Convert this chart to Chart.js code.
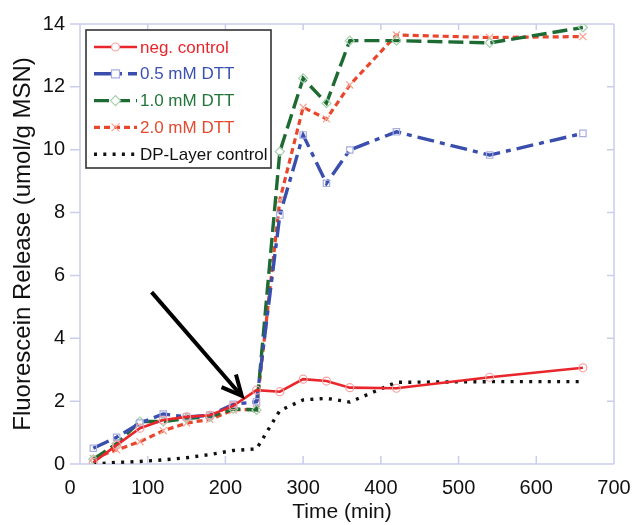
<!DOCTYPE html>
<html>
<head>
<meta charset="utf-8">
<script src="https://cdn.jsdelivr.net/npm/chart.js@4/dist/chart.umd.min.js"></script>
<style>
  html, body { margin: 0; padding: 0; background: #fff; }
  #wrap { width: 634px; height: 525px; position: relative; }
</style>
</head>
<body>
<div id="wrap"><canvas id="c" width="634" height="525"></canvas></div>
<script>
// ---- data ----
const times = [30, 60, 90, 120, 150, 180, 210, 240, 270, 300, 330, 360, 420, 540, 660];
const negControl = [0.05, 0.6, 1.14, 1.4, 1.5, 1.55, 1.85, 2.35, 2.3, 2.7, 2.64, 2.43, 2.41, 2.76, 3.06];
const dtt05 = [0.5, 0.85, 1.3, 1.59, 1.5, 1.55, 1.9, 1.98, 7.92, 10.47, 8.93, 9.99, 10.57, 9.83, 10.52];
const dtt10 = [0.15, 0.65, 1.35, 1.35, 1.45, 1.5, 1.75, 1.72, 9.94, 12.27, 11.48, 13.47, 13.47, 13.4, 13.89];
const dtt20 = [0.18, 0.45, 0.71, 1.06, 1.3, 1.42, 1.72, 1.74, 8.4, 11.35, 10.98, 12.06, 13.65, 13.57, 13.6];
const dpLayer = [0, 0.05, 0.08, 0.13, 0.2, 0.3, 0.43, 0.48, 1.7, 2.04, 2.09, 1.97, 2.6, 2.62, 2.62];
const seriesNames = ['neg. control', '0.5 mM DTT', '1.0 mM DTT', '2.0 mM DTT', 'DP-Layer control'];
const xTicks = [0, 100, 200, 300, 400, 500, 600, 700];
const yTicks = [0, 2, 4, 6, 8, 10, 12, 14];
// annotation arrow (data coordinates): tail -> head
const arrowTail = [105, 5.47];
const arrowHead = [221, 2.17];

const FONT = '"Liberation Sans", Arial, sans-serif';
const pts = arr => times.map((t, i) => ({ x: t, y: arr[i] }));

const styles = [
  { color: '#e8262c', text: '#e8262c', dash: [], width: 2.6, point: 'circle', pColor: '#f4a3a3', r: 4 },
  { color: '#3a4eae', text: '#3a52b0', dash: [17, 6, 5, 6], width: 3.4, point: 'rect', pColor: '#a7aee0', r: 4.5 },
  { color: '#1d6b33', text: '#22763a', dash: [15, 6], width: 3.4, point: 'rectRot', pColor: '#a3d0ae', r: 4.5 },
  { color: '#e9462c', text: '#e34a30', dash: [6, 4], width: 3.2, point: 'crossRot', pColor: '#f6a493', r: 5 },
  { color: '#111111', text: '#111111', dash: [3, 6.3], width: 3.4, point: false, pColor: '#111', r: 0 }
];
const values = [negControl, dtt05, dtt10, dtt20, dpLayer];

const datasets = values.map((v, i) => ({
  label: seriesNames[i],
  data: pts(v),
  borderColor: styles[i].color,
  borderWidth: styles[i].width,
  borderDash: styles[i].dash,
  borderCapStyle: 'butt',
  tension: 0,
  fill: false,
  pointStyle: styles[i].point || 'circle',
  pointRadius: styles[i].r,
  pointBorderColor: styles[i].pColor,
  pointBackgroundColor: 'rgba(255,255,255,0)',
  pointBorderWidth: 1.2,
  order: i
}));

const FRAME = '#c9cdea';

const framePlugin = {
  id: 'frame',
  beforeDatasetsDraw(chart) {
    const { ctx, chartArea: a, scales } = chart;
    ctx.save();
    ctx.strokeStyle = FRAME;
    ctx.lineWidth = 1.5;
    ctx.beginPath();
    const leftFrame = a.left + 10;
    ctx.moveTo(a.left, a.top); ctx.lineTo(a.right, a.top);
    ctx.moveTo(a.left, a.bottom); ctx.lineTo(a.right, a.bottom);
    ctx.moveTo(leftFrame, a.top); ctx.lineTo(leftFrame, a.bottom);
    ctx.moveTo(a.right, a.top); ctx.lineTo(a.right, a.bottom);
    yTicks.forEach(v => {
      const y = scales.y.getPixelForValue(v);
      ctx.moveTo(a.left, y); ctx.lineTo(leftFrame, y);
      ctx.moveTo(a.right - 7, y); ctx.lineTo(a.right, y);
    });
    xTicks.forEach(v => {
      if (v === 0 || v === 700) return;
      const x = scales.x.getPixelForValue(v);
      ctx.moveTo(x, a.bottom); ctx.lineTo(x, a.bottom - 8);
      ctx.moveTo(x, a.top); ctx.lineTo(x, a.top + 6);
    });
    ctx.stroke();
    ctx.restore();
  },
  afterDraw(chart) {
    const { ctx, scales } = chart;
    // arrow annotation
    const x1 = scales.x.getPixelForValue(arrowTail[0]);
    const y1 = scales.y.getPixelForValue(arrowTail[1]);
    const x2 = scales.x.getPixelForValue(arrowHead[0]);
    const y2 = scales.y.getPixelForValue(arrowHead[1]);
    ctx.save();
    ctx.strokeStyle = '#000';
    ctx.lineWidth = 4;
    ctx.lineCap = 'butt';
    ctx.lineJoin = 'miter';
    ctx.beginPath();
    ctx.moveTo(x1, y1); ctx.lineTo(x2 - 2, y2 - 2);
    ctx.stroke();
    const ang = Math.atan2(y2 - y1, x2 - x1);
    const L = 22, spread = 0.45;
    ctx.beginPath();
    ctx.moveTo(x2 - L * Math.cos(ang - spread), y2 - L * Math.sin(ang - spread));
    ctx.lineTo(x2, y2);
    ctx.lineTo(x2 - L * Math.cos(ang + spread), y2 - L * Math.sin(ang + spread));
    ctx.stroke();
    ctx.restore();

    // legend
    const bx = 86, by = 30, bw = 185, bh = 138;
    ctx.save();
    ctx.fillStyle = '#fff';
    ctx.fillRect(bx, by, bw, bh);
    ctx.strokeStyle = '#333';
    ctx.lineWidth = 1.6;
    ctx.strokeRect(bx, by, bw, bh);
    ctx.font = '17px ' + FONT;
    ctx.textBaseline = 'middle';
    seriesNames.forEach((name, i) => {
      const s = styles[i];
      const y = by + 17 + i * 26.8;
      ctx.save();
      ctx.strokeStyle = s.color;
      ctx.lineWidth = s.width;
      ctx.setLineDash(s.dash);
      ctx.lineCap = 'butt';
      ctx.beginPath();
      ctx.moveTo(94, y); ctx.lineTo(137, y);
      ctx.stroke();
      ctx.restore();
      if (s.point) {
        ctx.save();
        ctx.fillStyle = '#fff';
        ctx.strokeStyle = s.pColor;
        ctx.lineWidth = 1.2;
        const px = 115.5, r = 4;
        ctx.beginPath();
        if (s.point === 'circle') { ctx.arc(px, y, r, 0, Math.PI * 2); ctx.fill(); }
        else if (s.point === 'rect') { ctx.rect(px - r, y - r, 2 * r, 2 * r); ctx.fill(); }
        else if (s.point === 'rectRot') { ctx.moveTo(px - r - 1, y); ctx.lineTo(px, y - r - 1); ctx.lineTo(px + r + 1, y); ctx.lineTo(px, y + r + 1); ctx.closePath(); ctx.fill(); }
        else if (s.point === 'crossRot') { ctx.moveTo(px - r, y - r); ctx.lineTo(px + r, y + r); ctx.moveTo(px + r, y - r); ctx.lineTo(px - r, y + r); }
        ctx.stroke();
        ctx.restore();
      }
      ctx.fillStyle = s.text;
      ctx.fillText(name, 140, y + 1);
    });
    ctx.restore();
  }
};

new Chart(document.getElementById('c'), {
  type: 'line',
  data: { datasets },
  plugins: [framePlugin],
  options: {
    responsive: false,
    animation: false,
    layout: { padding: { top: 24, right: 20, left: 0, bottom: 0 } },
    plugins: { legend: { display: false }, tooltip: { enabled: false } },
    scales: {
      x: {
        type: 'linear', min: 0, max: 700,
        afterBuildTicks: s => { s.ticks = xTicks.map(v => ({ value: v })); },
        afterFit: s => { s.height = 61; s.paddingRight = 0; s.paddingLeft = 0; },
        grid: { display: false, drawTicks: false },
        border: { display: false },
        ticks: { color: '#111', font: { family: FONT, size: 20 }, padding: 12, maxRotation: 0 },
        title: { display: true, text: 'Time (min)', color: '#111', font: { family: FONT, size: 21 }, padding: { top: 0, bottom: 0 } }
      },
      y: {
        type: 'linear', min: 0, max: 14,
        afterBuildTicks: s => { s.ticks = yTicks.map(v => ({ value: v })); },
        afterFit: s => { s.width = 70; s.paddingTop = 0; s.paddingBottom = 0; },
        grid: { display: false, drawTicks: false },
        border: { display: false },
        ticks: { color: '#111', font: { family: FONT, size: 20 }, padding: 5 },
        title: { display: true, text: 'Fluorescein Release (umol/g MSN)', color: '#111', font: { family: FONT, size: 24 }, padding: { top: 9, bottom: 0 } }
      }
    }
  }
});
</script>
</body>
</html>
